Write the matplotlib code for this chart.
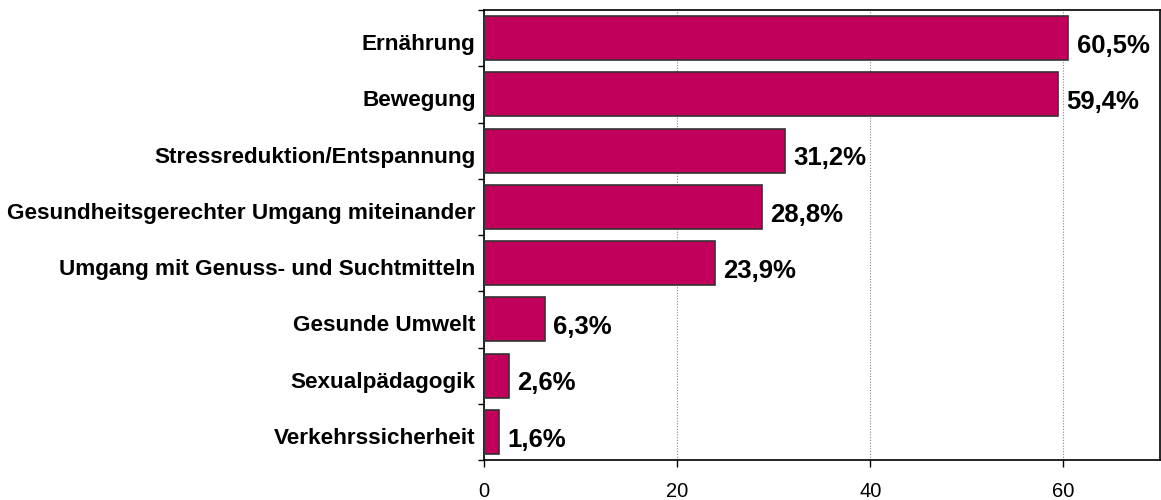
import matplotlib
matplotlib.use('Agg')
import matplotlib.pyplot as plt
import matplotlib.transforms as mtransforms
import numpy as np

categories = ['Ernährung', 'Bewegung', 'Stressreduktion/Entspannung',
              'Gesundheitsgerechter Umgang miteinander',
              'Umgang mit Genuss- und Suchtmitteln', 'Gesunde Umwelt',
              'Sexualpädagogik', 'Verkehrssicherheit']
values = [60.5, 59.4, 31.2, 28.8, 23.9, 6.3, 2.6, 1.6]
value_labels = ['60,5%', '59,4%', '31,2%', '28,8%', '23,9%', '6,3%', '2,6%', '1,6%']
x_ticks = [0, 20, 40, 60]

plt.rcParams['font.family'] = ['Liberation Sans', 'DejaVu Sans']

fig = plt.figure(figsize=(11.61, 5.0), dpi=100)
ax = fig.add_axes([484 / 1161, 40 / 500, 676 / 1161, 450 / 500])

y = np.arange(len(categories))
ax.barh(y, values, height=0.78, color='#C0005A', edgecolor='#333333', linewidth=1.2, zorder=3)

for yi, v, lab in zip(y, values, value_labels):
    ax.annotate(lab, xy=(v, yi), xytext=(6, -5.5), textcoords='offset points',
                ha='left', va='center', fontsize=18.5, fontweight='bold', zorder=4)

ax.set_xlim(0, 70)
ax.set_ylim(len(categories) - 0.5, -0.5)

# category labels centred, tick marks at the boundaries
ax.set_yticks(y)
ax.set_yticklabels(categories, fontsize=16.2, fontweight='bold')
ax.tick_params(axis='y', which='major', length=0, pad=6)
ax.set_yticks(np.arange(len(categories) + 1) - 0.5, minor=True)
ax.tick_params(axis='y', which='minor', length=4, width=1, direction='out')

# labels sit a little below the bar centre in the original
shift = mtransforms.ScaledTranslation(0, -4 / 100, fig.dpi_scale_trans)
for lbl in ax.get_yticklabels():
    lbl.set_transform(lbl.get_transform() + shift)

ax.set_xticks(x_ticks)
ax.set_xticklabels([str(t) for t in x_ticks], fontsize=14.5)
ax.tick_params(axis='x', length=5, width=1, direction='out', pad=11)

ax.grid(axis='x', color='#888888', linestyle=(0, (1, 1.5)), linewidth=0.8, zorder=0)
for s in ax.spines.values():
    s.set_linewidth(1.2)
    s.set_color('black')

fig.savefig('out.png', dpi=100)
